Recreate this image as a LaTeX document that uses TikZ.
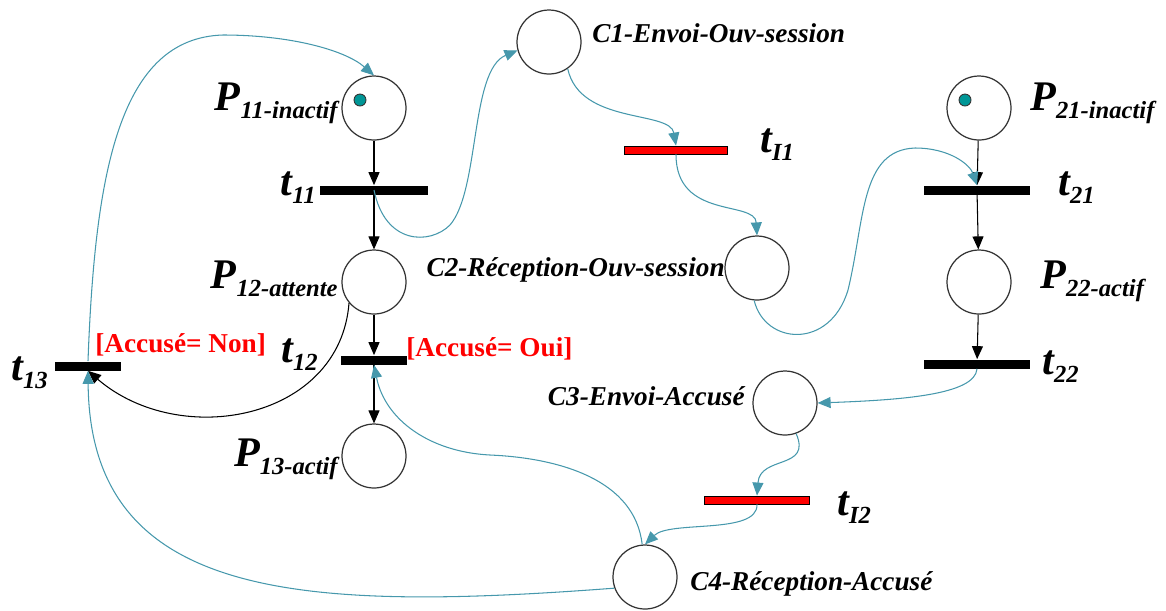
\documentclass[tikz,border=0pt]{standalone}
\usepackage{fontspec}
\setmainfont{Liberation Serif}
\usepackage{xcolor}
\usetikzlibrary{positioning,arrows.meta}
\definecolor{arcteal}{RGB}{70,152,172}
\definecolor{tokteal}{RGB}{0,150,150}
\newcommand{\bigsub}[2]{{\fontsize{24}{24}\selectfont\bfseries\itshape #1}\raisebox{-5pt}{\fontsize{14}{14}\selectfont\bfseries\itshape #2}}
\tikzset{
place/.style={
draw=black!80,
circle,
minimum size=1.28cm,
inner sep=0pt,
line width=0.7pt
},
trans/.style={
fill=black,
minimum height=0.18cm,
inner sep=0pt
},
itrans/.style={
draw=black,
fill=red,
minimum height=0.16cm,
inner sep=0pt,
line width=0.5pt
},
token/.style={
circle,
draw=black!80,
fill=tokteal,
minimum size=0.24cm,
inner sep=0pt,
line width=0.5pt
},
lbl/.style={
inner sep=0pt
},
clabel/.style={
inner sep=0pt,
font=\fontsize{15.5}{16}\selectfont\bfseries\itshape
},
guard/.style={
inner sep=0pt,
text=red,
font=\fontsize{15.5}{16}\selectfont\bfseries
},
arrow/.style={
-{Triangle[length=2.6mm,width=2.2mm]},
line width=0.6pt
},
tarrow/.style={
arrow,
draw=arcteal
}
}
\begin{document}
\begin{tikzpicture}[x=0.02cm,y=-0.02cm]
\useasboundingbox (0,0) rectangle (1166,610);
% places
\node[place](p11) at (374,108){};
\node[place](p12) at (374,282){};
\node[place](p13) at (374,456){};
\node[place](p21) at (979,108){};
\node[place](p22) at (979,282){};
\node[place](c1) at (549,42){};
\node[place](c2) at (757,268){};
\node[place](c3) at (785,403){};
\node[place](c4) at (645,577){};
\node[token](k1) at (360,100){};
\node[token](k2) at (965,100){};
% transitions
\node[trans,minimum width=2.16cm](t11) at (374,190){};
\node[trans,minimum width=1.34cm](t12) at (374,360){};
\node[trans,minimum width=1.32cm](t13) at (88,366){};
\node[trans,minimum width=2.12cm](t21) at (977,190){};
\node[trans,minimum width=2.12cm](t22) at (977,364){};
\node[itrans,minimum width=2.06cm](ti1) at (676,150){};
\node[itrans,minimum width=2.1cm](ti2) at (757,500){};
% labels
\node[lbl,anchor=base east](lp11) at (338,110){\bigsub{P}{11-inactif}};
\node[lbl,anchor=base east](lp12) at (338,288){\bigsub{P}{12-attente}};
\node[lbl,anchor=base east](lp13) at (338,466){\bigsub{P}{13-actif}};
\node[lbl,anchor=base west](lp21) at (1030,110){\bigsub{P}{21-inactif}};
\node[lbl,anchor=base west](lp22) at (1040,288){\bigsub{P}{22-actif}};
\node[lbl,anchor=base east](lt11) at (316,195){\bigsub{t}{11}};
\node[lbl,anchor=base east](lt12) at (318,362){\bigsub{t}{12}};
\node[lbl,anchor=base east](lt13) at (48,380){\bigsub{t}{13}};
\node[lbl,anchor=base west](lt21) at (1058,195){\bigsub{t}{21}};
\node[lbl,anchor=base west](lt22) at (1042,374){\bigsub{t}{22}};
\node[lbl,anchor=base west](lti1) at (760,152){\bigsub{t}{I1}};
\node[lbl,anchor=base west](lti2) at (837,515){\bigsub{t}{I2}};
\node[clabel,anchor=base west](lc1) at (592,42){C1-Envoi-Ouv-session};
\node[clabel,anchor=base east](lc2) at (725,276){C2-Réception-Ouv-session};
\node[clabel,anchor=base east](lc3) at (745,405){C3-Envoi-Accusé};
\node[clabel,anchor=base west](lc4) at (690,590){C4-Réception-Accusé};
\node[guard,anchor=base west](gnon) at (95,352){[Accusé= Non]};
\node[guard,anchor=base west](goui) at (406,356){[Accusé= Oui]};

\foreach \x/\y in {p11/t11,t11/p12,p12/t12,t12/p13,p21/t21,t21/p22,p22/t22}
\draw[arrow](\x)--(\y);
\draw[arrow](p12.220) .. controls (340,420) and (180,450) .. (t13.south);
\draw[tarrow](t13.north) .. controls (95,170) and (120,38) .. (223,35) .. controls (290,35) and (345,50) .. (p11.north);
\draw[tarrow](c4.200) .. controls (300,612) and (90,600) .. (t13.south);
\draw[tarrow](c4.95) .. controls (635,480) and (560,458) .. (490,455) .. controls (430,452) and (385,420) .. (t12.south);
\draw[tarrow](t11.center) .. controls (385,245) and (430,245) .. (450,225) .. controls (480,190) and (470,70) .. (c1.195);
\draw[tarrow](c1.-55) .. controls (580,125) and (670,110) .. (ti1.north);
\draw[tarrow](ti1.south) .. controls (676,220) and (755,200) .. (c2.north);
\draw[tarrow](c2.-95) .. controls (765,345) and (830,350) .. (848,290) .. controls (865,220) and (860,150) .. (915,148) .. controls (950,148) and (970,165) .. (t21.north);
\draw[tarrow](t22.south) .. controls (975,395) and (900,400) .. (c3.east);
\draw[tarrow](c3.-70) .. controls (812,470) and (760,455) .. (ti2.north);
\draw[tarrow](ti2.south) .. controls (758,535) and (670,520) .. (c4.north);
\end{tikzpicture}
\end{document}
